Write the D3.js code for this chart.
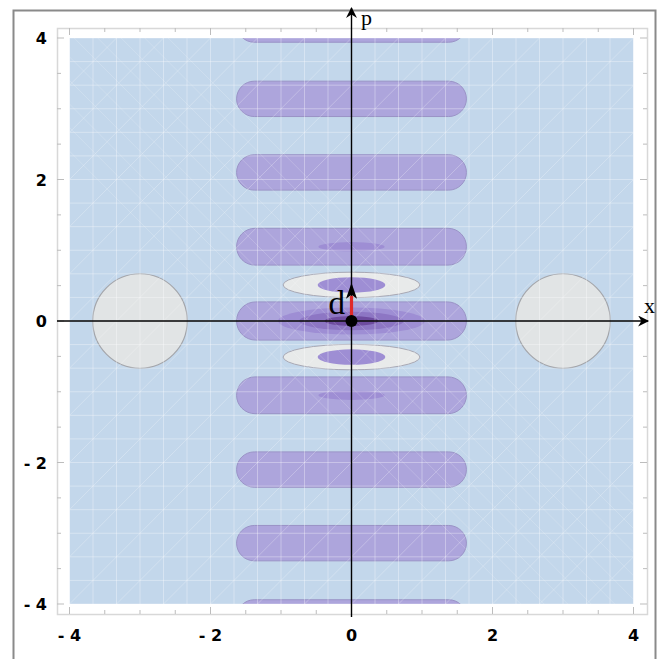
<!DOCTYPE html>
<html><head><meta charset="utf-8">
<script src="https://cdn.jsdelivr.net/npm/d3@7"></script>
<style>body{margin:0;background:#fff}svg{display:block}</style>
</head><body>
<script>
// ---- data (phase-space units) ----
const xTicks = [-4, -2, 0, 2, 4];
const pTicks = [-4, -2, 0, 2, 4];
const minorTicks = d3.range(-4, 4.01, 0.5);
// purple fringe bands: centre p, half-length in x, half-thickness in p
const bandP = [4.19, 3.14, 2.1, 1.05, 0, -1.05, -2.1, -3.14, -4.19];
const bandHalfX = [1.63, 1.63, 1.63, 1.63, 1.63, 1.63, 1.63, 1.63, 1.63];
const bandHalfP = [0.25, 0.25, 0.25, 0.26, 0.27, 0.26, 0.25, 0.25, 0.25];
// negative (white) fringes
const negP = [0.51, -0.51];
const negHalfX = [0.97, 0.97];
const negHalfP = [0.18, 0.18];
// inner contour ellipses: centre p, rx, ry, level (1..3)
const innerP =     [1.05, -1.05, 0.51, -0.51, 0,    0,    0];
const innerRx =    [0.47, 0.47,  0.48, 0.48,  1.04, 0.74, 0.38];
const innerRy =    [0.065, 0.065, 0.11, 0.11, 0.19, 0.13, 0.07];
const innerLevel = [1,    1,     1,    1,     1,    2,    3];
// coherent-state blobs
const blobX = [-3, 3];
const blobR = 0.67;
// displacement vector d
const dVec = [0, 0.54];

// ---- layout ----
const W = 664, H = 659;
const svg = d3.select("body").append("svg").attr("width", W).attr("height", H);
const x = d3.scaleLinear().domain([-4, 4]).range([69.5, 633.5]);
const y = d3.scaleLinear().domain([-4, 4]).range([604, 38]);
const fL = 57, fR = 647, fT = 28, fB = 614;

// outer border
svg.append("rect").attr("x", 13.5).attr("y", 10.5).attr("width", 642).attr("height", 670)
  .attr("fill", "none").attr("stroke", "#8a8a8a").attr("stroke-width", 2);

const defs = svg.append("defs");
defs.append("clipPath").attr("id", "clip").append("rect")
  .attr("x", x(-4)).attr("y", y(4)).attr("width", x(4) - x(-4)).attr("height", y(-4) - y(4));

const g = svg.append("g").attr("clip-path", "url(#clip)");
g.append("rect").attr("x", x(-4)).attr("y", y(4)).attr("width", x(4) - x(-4)).attr("height", y(-4) - y(4))
  .attr("fill", "#c3d7eb");

const sx = x(1) - x(0), sy = y(0) - y(1);
// bands
g.selectAll("rect.band").data(bandP).join("rect").attr("class", "band")
  .attr("x", (d, i) => x(-bandHalfX[i])).attr("y", (d, i) => y(d + bandHalfP[i]))
  .attr("width", (d, i) => x(bandHalfX[i]) - x(-bandHalfX[i]))
  .attr("height", (d, i) => y(d - bandHalfP[i]) - y(d + bandHalfP[i]))
  .attr("rx", (d, i) => bandHalfP[i] * sy).attr("ry", (d, i) => bandHalfP[i] * sy)
  .attr("fill", "#ada5dc").attr("stroke", "#9a93c6").attr("stroke-width", 1);
// negative fringes
g.selectAll("ellipse.neg").data(negP).join("ellipse").attr("class", "neg")
  .attr("cx", x(0)).attr("cy", d => y(d))
  .attr("rx", (d, i) => negHalfX[i] * sx).attr("ry", (d, i) => negHalfP[i] * sy)
  .attr("fill", "#e8eaea").attr("stroke", "#a8a8b4").attr("stroke-width", 1);
// inner contours
const lvlFill = ["#9e8ed4", "#8d76c4", "#6e4ca0"];
g.selectAll("ellipse.inner").data(innerP).join("ellipse").attr("class", "inner")
  .attr("cx", x(0)).attr("cy", d => y(d))
  .attr("rx", (d, i) => innerRx[i] * sx).attr("ry", (d, i) => innerRy[i] * sy)
  .attr("fill", (d, i) => lvlFill[innerLevel[i] - 1]).attr("stroke", "none");
// blobs
g.selectAll("circle.blob").data(blobX).join("circle").attr("class", "blob")
  .attr("cx", d => x(d)).attr("cy", y(0)).attr("r", blobR * sx)
  .attr("fill", "#e1e4e5").attr("stroke", "#a4a6ab").attr("stroke-width", 1.2);

// mesh artefact lines
const mesh = g.append("g").attr("stroke", "#ffffff").attr("stroke-opacity", 0.34).attr("stroke-width", 1);
const step = 1 / 3;
d3.range(-4, 4.01, step).forEach(v => {
  mesh.append("line").attr("x1", x(v)).attr("x2", x(v)).attr("y1", y(-4)).attr("y2", y(4));
  mesh.append("line").attr("y1", y(v)).attr("y2", y(v)).attr("x1", x(-4)).attr("x2", x(4));
});
d3.range(-8, 8.01, 2 * step).forEach(v => {
  mesh.append("line").attr("x1", x(v - 4)).attr("y1", y(-4)).attr("x2", x(v + 4)).attr("y2", y(4))
    .attr("stroke-opacity", 0.26);
});
d3.range(-1.6, 1.61, step).forEach(v => {
  mesh.append("line").attr("x1", x(v - 4)).attr("y1", y(4)).attr("x2", x(v + 4)).attr("y2", y(-4))
    .attr("stroke-opacity", 0.18);
});

// frame & ticks
svg.append("rect").attr("x", fL + 0.5).attr("y", fT + 0.5).attr("width", fR - fL).attr("height", fB - fT)
  .attr("fill", "none").attr("stroke", "#d8d8d8").attr("stroke-width", 1.5);
const tk = svg.append("g").attr("stroke", "#bdbdbd").attr("stroke-width", 1);
minorTicks.forEach(v => {
  const len = (Math.abs(v % 2) < 1e-9) ? 7 : 4;
  tk.append("line").attr("x1", x(v)).attr("x2", x(v)).attr("y1", fB).attr("y2", fB - len);
  tk.append("line").attr("x1", x(v)).attr("x2", x(v)).attr("y1", fT).attr("y2", fT + len);
  tk.append("line").attr("y1", y(v)).attr("y2", y(v)).attr("x1", fL).attr("x2", fL + len);
  tk.append("line").attr("y1", y(v)).attr("y2", y(v)).attr("x1", fR).attr("x2", fR - len);
});
const tf = "DejaVu Sans, sans-serif";
svg.selectAll("text.xt").data(xTicks).join("text").attr("class", "xt")
  .attr("x", d => x(d)).attr("y", 641).attr("text-anchor", "middle")
  .attr("font-family", tf).attr("font-weight", "bold").attr("font-size", 16)
  .text(d => d < 0 ? "- " + (-d) : d);
svg.selectAll("text.yt").data(pTicks).join("text").attr("class", "yt")
  .attr("x", 47).attr("y", d => y(d) + 6).attr("text-anchor", "end")
  .attr("font-family", tf).attr("font-weight", "bold").attr("font-size", 16)
  .text(d => d < 0 ? "- " + (-d) : d);

// axes with arrows
defs.append("marker").attr("id", "ah").attr("viewBox", "0 0 10 10").attr("refX", 9).attr("refY", 5)
  .attr("markerWidth", 12).attr("markerHeight", 11).attr("orient", "auto").attr("markerUnits", "userSpaceOnUse")
  .append("path").attr("d", "M0,0 L10,5 L0,10 L3,5 Z").attr("fill", "#000");
svg.append("line").attr("x1", fL).attr("x2", 648).attr("y1", y(0)).attr("y2", y(0))
  .attr("stroke", "#000").attr("stroke-width", 1.4).attr("marker-end", "url(#ah)");
svg.append("line").attr("x1", x(0)).attr("x2", x(0)).attr("y1", 617).attr("y2", 8)
  .attr("stroke", "#000").attr("stroke-width", 1.4).attr("marker-end", "url(#ah)");
const sf = "Liberation Serif, serif";
svg.append("text").attr("x", 644).attr("y", 313).attr("font-family", sf).attr("font-size", 22).text("x");
svg.append("text").attr("x", 361).attr("y", 25).attr("font-family", sf).attr("font-size", 22).text("p");

// displacement vector
const tipY = y(dVec[1]), baseY = tipY + 16, ox = x(dVec[0]);
svg.append("line").attr("x1", x(0)).attr("y1", y(0)).attr("x2", ox).attr("y2", baseY - 3)
  .attr("stroke", "#e02a2a").attr("stroke-width", 3.2);
svg.append("path")
  .attr("d", `M${ox},${tipY} L${ox + 5.5},${baseY} L${ox},${baseY - 4} L${ox - 5.5},${baseY} Z`)
  .attr("fill", "#000");
svg.append("circle").attr("cx", x(0)).attr("cy", y(0)).attr("r", 6).attr("fill", "#000");
svg.append("text").attr("x", 345).attr("y", 314).attr("text-anchor", "end")
  .attr("font-family", sf).attr("font-size", 33).text("d");
</script>
</body></html>
